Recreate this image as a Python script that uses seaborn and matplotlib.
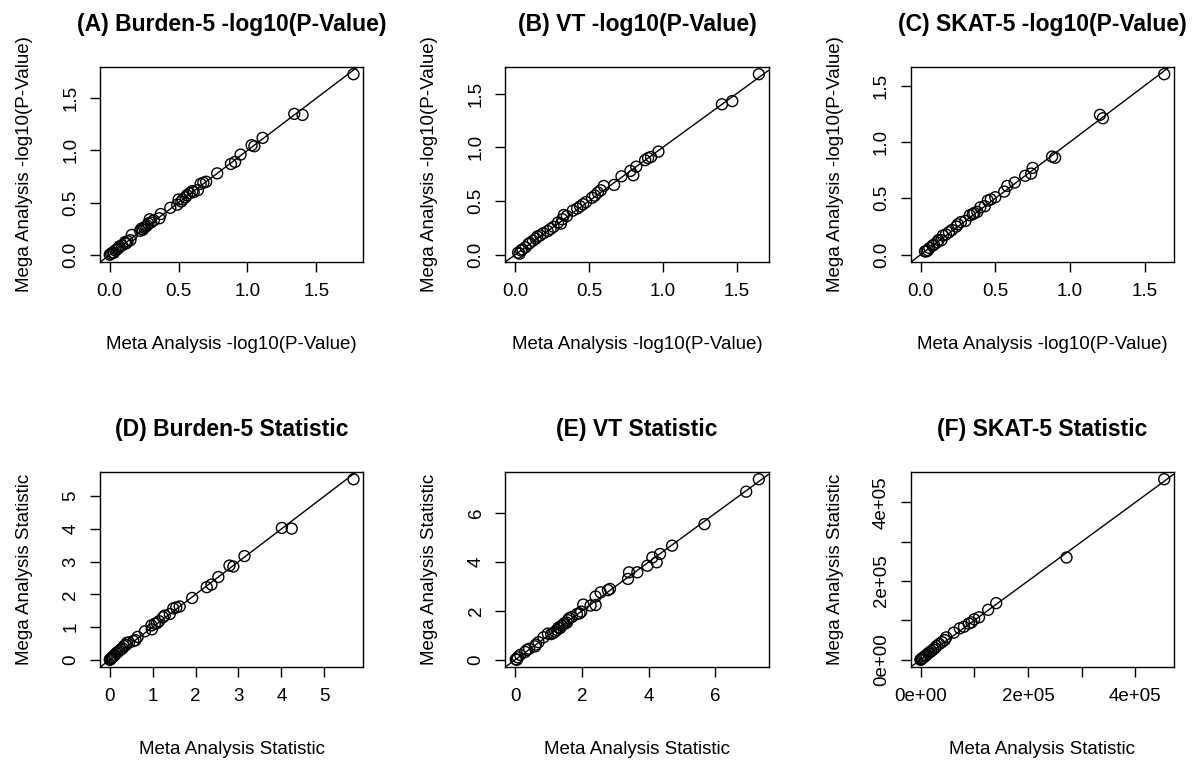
import matplotlib
matplotlib.use("Agg")
from matplotlib import pyplot as plt
import seaborn as sns

# panel A: Burden-5 -log10(P)
a_meta = [1.77, 1.34, 1.40, 1.11, 1.03, 1.05, 0.95, 0.91, 0.88, 0.78, 0.70, 0.68, 0.66,
          0.64, 0.60, 0.58, 0.55, 0.53, 0.50, 0.49, 0.44, 0.37, 0.36, 0.32, 0.29, 0.28,
          0.27, 0.25, 0.24, 0.22, 0.16, 0.15, 0.13, 0.11, 0.09, 0.07, 0.05, 0.04, 0.02,
          0.01, 0.00, 0.30, 0.26, 0.23, 0.12, 0.06, 0.03, 0.56, 0.61, 0.52]
a_mega = [1.73, 1.35, 1.34, 1.12, 1.05, 1.04, 0.96, 0.89, 0.87, 0.78, 0.70, 0.69, 0.68,
          0.62, 0.61, 0.59, 0.55, 0.53, 0.53, 0.48, 0.45, 0.39, 0.35, 0.33, 0.34, 0.30,
          0.28, 0.26, 0.24, 0.23, 0.19, 0.14, 0.13, 0.12, 0.09, 0.08, 0.05, 0.04, 0.02,
          0.01, 0.00, 0.31, 0.27, 0.25, 0.11, 0.06, 0.02, 0.57, 0.60, 0.51]

# panel B: VT -log10(P)
b_meta = [1.65, 1.40, 1.47, 0.97, 0.92, 0.90, 0.88, 0.82, 0.80, 0.78, 0.72, 0.67, 0.60,
          0.58, 0.56, 0.54, 0.52, 0.48, 0.46, 0.44, 0.42, 0.39, 0.35, 0.33, 0.32, 0.31,
          0.29, 0.26, 0.24, 0.22, 0.19, 0.17, 0.15, 0.14, 0.12, 0.10, 0.09, 0.07, 0.05,
          0.04, 0.02, 0.03]
b_mega = [1.68, 1.40, 1.43, 0.96, 0.91, 0.90, 0.88, 0.82, 0.74, 0.78, 0.73, 0.65, 0.64,
          0.60, 0.58, 0.55, 0.53, 0.49, 0.47, 0.45, 0.43, 0.41, 0.36, 0.37, 0.33, 0.29,
          0.30, 0.26, 0.24, 0.22, 0.20, 0.18, 0.17, 0.15, 0.13, 0.11, 0.10, 0.07, 0.05,
          0.04, 0.02, 0.01]

# panel C: SKAT-5 -log10(P)
c_meta = [1.63, 1.20, 1.22, 0.88, 0.90, 0.75, 0.74, 0.70, 0.63, 0.58, 0.56, 0.50, 0.47,
          0.45, 0.43, 0.40, 0.38, 0.36, 0.35, 0.33, 0.30, 0.27, 0.25, 0.24, 0.21, 0.19,
          0.17, 0.15, 0.14, 0.12, 0.11, 0.09, 0.08, 0.06, 0.05, 0.04, 0.03]
c_mega = [1.60, 1.24, 1.21, 0.87, 0.86, 0.77, 0.72, 0.70, 0.64, 0.61, 0.56, 0.51, 0.49,
          0.48, 0.43, 0.42, 0.38, 0.37, 0.36, 0.35, 0.30, 0.29, 0.27, 0.25, 0.22, 0.20,
          0.18, 0.17, 0.13, 0.13, 0.11, 0.09, 0.08, 0.06, 0.04, 0.03, 0.03]

# panel D: Burden-5 statistic
d_meta = [5.68, 4.01, 4.24, 3.14, 2.79, 2.88, 2.53, 2.37, 2.26, 1.92, 1.63, 1.55, 1.48,
          1.40, 1.28, 1.24, 1.15, 1.10, 1.05, 0.97, 0.98, 0.82, 0.65, 0.60, 0.55, 0.45,
          0.40, 0.38, 0.33, 0.30, 0.26, 0.22, 0.18, 0.15, 0.12, 0.10, 0.07, 0.05, 0.03,
          0.02, 0.01, 0.00]
d_mega = [5.52, 4.03, 4.01, 3.17, 2.88, 2.85, 2.53, 2.30, 2.22, 1.89, 1.63, 1.60, 1.57,
          1.40, 1.35, 1.30, 1.18, 1.12, 1.10, 1.05, 0.93, 0.87, 0.70, 0.60, 0.57, 0.53,
          0.52, 0.45, 0.42, 0.35, 0.32, 0.27, 0.23, 0.20, 0.15, 0.12, 0.09, 0.06, 0.04,
          0.02, 0.01, 0.00]

# panel E: VT statistic
e_meta = [7.30, 6.92, 5.67, 4.70, 4.34, 4.11, 4.24, 3.96, 3.66, 3.41, 3.38, 2.84, 2.78,
          2.56, 2.41, 2.41, 2.26, 2.04, 1.98, 1.93, 1.85, 1.70, 1.62, 1.58, 1.55, 1.48,
          1.45, 1.40, 1.35, 1.30, 1.25, 1.20, 1.15, 1.08, 0.98, 0.85, 0.70, 0.62, 0.60,
          0.42, 0.35, 0.30, 0.15, 0.08, 0.02, 0.05]
e_mega = [7.39, 6.88, 5.55, 4.67, 4.33, 4.19, 3.99, 3.85, 3.58, 3.58, 3.31, 2.90, 2.85,
          2.76, 2.59, 2.24, 2.22, 2.26, 1.97, 1.90, 1.87, 1.75, 1.70, 1.62, 1.52, 1.50,
          1.45, 1.40, 1.30, 1.32, 1.22, 1.15, 1.10, 1.05, 1.07, 0.92, 0.72, 0.62, 0.55,
          0.45, 0.40, 0.32, 0.20, 0.10, 0.02, 0.00]

# panel F: SKAT-5 statistic
f_meta = [454000, 272000, 141000, 126000, 109000, 100000, 95000, 90000, 81000, 73000,
          62000, 48000, 45000, 40000, 35000, 30000, 27000, 24000, 20000, 17000, 14000,
          11000, 9000, 7000, 5000, 3000, 2000, 1000, 500, 0]
f_mega = [459000, 260000, 144000, 127000, 108000, 103000, 95000, 92000, 84000, 80000,
          69000, 57000, 50000, 45000, 40000, 35000, 30000, 26000, 22000, 19000, 16000,
          12000, 10000, 8000, 5000, 3000, 2000, 1000, 500, 0]

titles = ["(A) Burden-5 -log10(P-Value)", "(B) VT -log10(P-Value)",
          "(C) SKAT-5 -log10(P-Value)", "(D) Burden-5 Statistic",
          "(E) VT Statistic", "(F) SKAT-5 Statistic"]
pval_ticks = [0, 0.5, 1.0, 1.5]
pval_labels = ["0.0", "0.5", "1.0", "1.5"]
d_ticks = [0, 1, 2, 3, 4, 5]
e_ticks = [0, 2, 4, 6]
f_ticks = [0, 100000, 200000, 300000, 400000]
f_labels = ["0e+00", "", "2e+05", "", "4e+05"]

sns.set_style("ticks")
plt.rcParams["font.family"] = ["Liberation Sans", "DejaVu Sans"]
plt.rcParams["text.color"] = "black"
plt.rcParams["axes.labelcolor"] = "black"

fig, axs = plt.subplots(2, 3, figsize=(11.95, 7.6), dpi=100)
fig.subplots_adjust(left=100 / 1195, right=1174 / 1195, top=1 - 67 / 760,
                    bottom=1 - 667 / 760, wspace=142 / 263, hspace=210 / 195)

panels = [(a_meta, a_mega), (b_meta, b_mega), (c_meta, c_mega),
          (d_meta, d_mega), (e_meta, e_mega), (f_meta, f_mega)]
tick_sets = [(pval_ticks, pval_labels)] * 3 + [
    (d_ticks, [str(t) for t in d_ticks]),
    (e_ticks, [str(t) for t in e_ticks]),
    (f_ticks, f_labels)]

for i, ax in enumerate(axs.flat):
    meta, mega = panels[i]
    sns.scatterplot(x=meta, y=mega, ax=ax, color="none", edgecolor="black",
                    s=62, linewidth=1.0, marker="o")
    ax.margins(0.04)
    ax.axline((0, 0), slope=1, color="black", lw=1.0)
    ticks, labels = tick_sets[i]
    ax.set_xticks(ticks, labels)
    ax.set_yticks(ticks, labels)
    ax.tick_params(axis="both", labelsize=13.5, length=7, width=1, pad=8,
                   color="black", labelcolor="black")
    for lab in ax.get_yticklabels():
        lab.set_rotation(90)
        lab.set_va("center")
    for sp in ax.spines.values():
        sp.set_visible(True)
        sp.set_linewidth(1.0)
        sp.set_color("black")
    ax.set_title(titles[i], fontsize=16.5, fontweight="bold", pad=26)
    if i < 3:
        ax.set_xlabel("Meta Analysis -log10(P-Value)", fontsize=13.5, labelpad=26)
        ax.set_ylabel("Mega Analysis -log10(P-Value)", fontsize=13.5, labelpad=21)
    else:
        ax.set_xlabel("Meta Analysis Statistic", fontsize=13.5, labelpad=26)
        ax.set_ylabel("Mega Analysis Statistic", fontsize=13.5, labelpad=21)

plt.savefig("out.png", dpi=100)
